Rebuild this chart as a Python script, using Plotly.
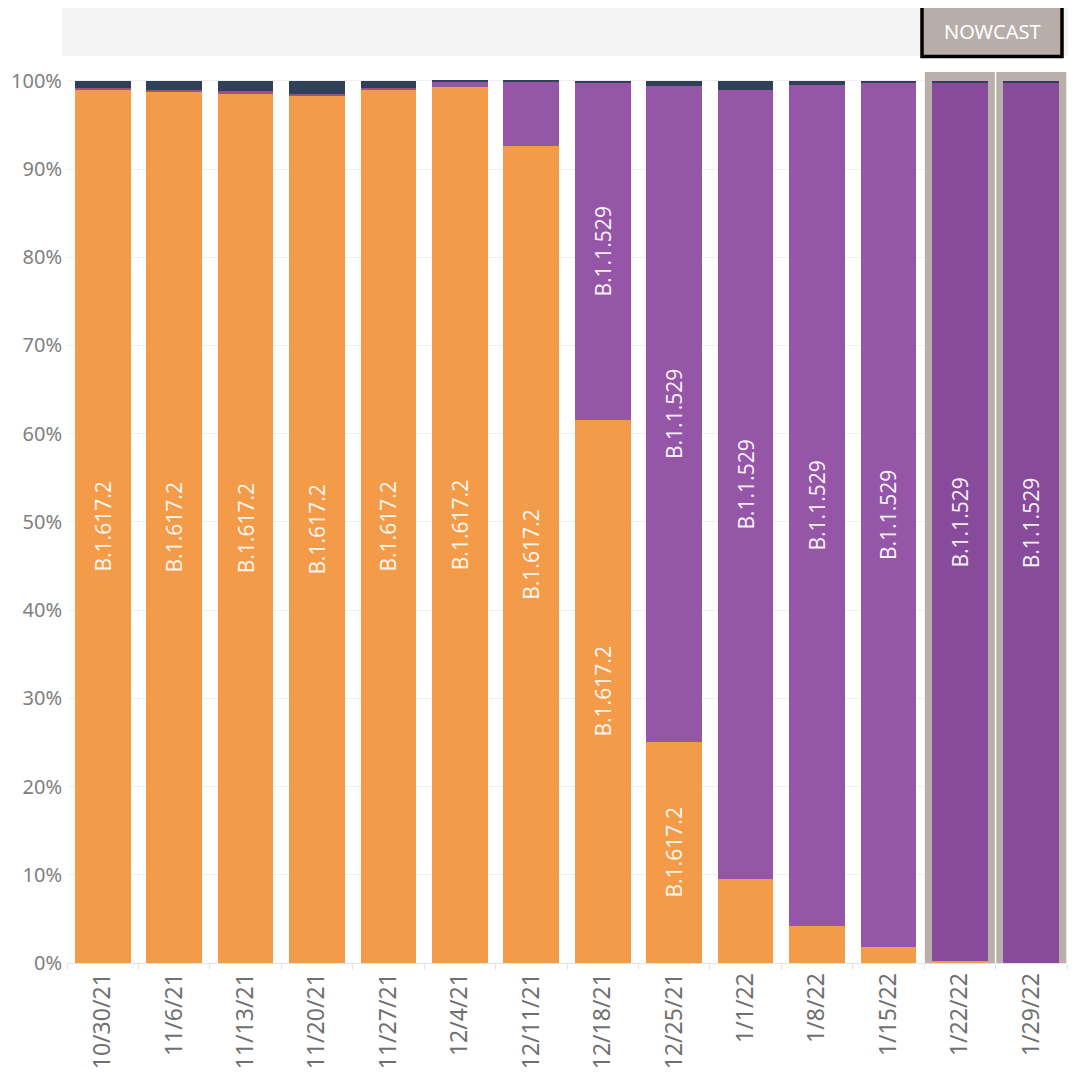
import plotly.graph_objects as go

weeks = ["10/30/21", "11/6/21", "11/13/21", "11/20/21", "11/27/21", "12/4/21", "12/11/21",
         "12/18/21", "12/25/21", "1/1/22", "1/8/22", "1/15/22", "1/22/22", "1/29/22"]
delta = [99.0, 98.8, 98.6, 98.3, 99.0, 99.3, 92.6, 61.6, 25.1, 9.5, 4.2, 1.8, 0.2, 0.05]
omicron = [0, 0, 0, 0, 0, 0.6, 7.3, 38.15, 74.3, 89.5, 95.35, 98.0, 99.5, 99.65]
minor = [0.2, 0.2, 0.2, 0.2, 0.2, 0, 0, 0, 0, 0, 0, 0, 0, 0]
other = [0.8, 1.0, 1.2, 1.5, 0.8, 0.1, 0.1, 0.25, 0.6, 1.0, 0.45, 0.2, 0.3, 0.3]
delta_labels = ["B.1.617.2"] * 9 + [""] * 5
omicron_labels = [""] * 7 + ["B.1.1.529"] * 7
nowcast_weeks = ["1/22/22", "1/29/22"]

FONT = "Noto Sans"
ORANGE = "#f39b48"
PURPLE = "#9656a8"
PURPLE_NC = "#884a9b"
NAVY = "#2f4058"
PINK = "#a2507e"

omicron_colors = [PURPLE_NC if w in nowcast_weeks else PURPLE for w in weeks]

fig = go.Figure()
common = dict(textangle=-90, textposition="inside", insidetextanchor="middle",
              textfont=dict(family=FONT, size=21, color="rgba(255,255,255,0.92)"),
              hoverinfo="x+y+name")
fig.add_trace(go.Bar(x=weeks, y=delta, name="B.1.617.2", marker_color=ORANGE,
                     marker_line_width=0, text=delta_labels, **common))
fig.add_trace(go.Bar(x=weeks, y=omicron, name="B.1.1.529", marker_color=omicron_colors,
                     marker_line_width=0, text=omicron_labels, **common))
fig.add_trace(go.Bar(x=weeks, y=minor, name="Minor lineage", marker_color=PINK,
                     marker_line_width=0))
fig.add_trace(go.Bar(x=weeks, y=other, name="Other", marker_color=NAVY,
                     marker_line_width=0))

shapes = []
# header band
shapes.append(dict(type="rect", xref="paper", yref="paper", x0=-0.005, x1=1.003,
                   y0=1.018, y1=1.0763, fillcolor="#f4f4f4", line_width=0, layer="below"))
# NOWCAST button
shapes.append(dict(type="rect", xref="paper", yref="paper", x0=0.855, x1=0.995,
                   y0=1.0175, y1=1.075, fillcolor="#b7aeaa",
                   line=dict(color="#000000", width=3.5)))
# nowcast background columns
for w in nowcast_weeks:
    i = weeks.index(w)
    shapes.append(dict(type="rect", xref="x", yref="y", x0=i - 0.49, x1=i + 0.49,
                       y0=0, y1=101, fillcolor="#b9b0ab", line_width=0, layer="between"))

fig.update_layout(
    barmode="stack",
    bargap=0.22,
    width=1068, height=1072,
    margin=dict(l=59, r=9, t=64, b=117, autoexpand=False),
    plot_bgcolor="white", paper_bgcolor="white",
    showlegend=False,
    shapes=shapes,
    annotations=[dict(xref="paper", yref="paper", x=0.925, y=1.046, text="NOWCAST",
                      showarrow=False, font=dict(family=FONT, size=20, color="white"),
                      xanchor="center", yanchor="middle")],
    font=dict(family=FONT, color="#808080"),
)
fig.update_yaxes(range=[0, 101], tickvals=[0, 10, 20, 30, 40, 50, 60, 70, 80, 90, 100],
                 ticktext=[f"{v}%" for v in range(0, 101, 10)], automargin=False,
                 showgrid=True, gridcolor="#efefef", gridwidth=1, zeroline=False,
                 tickfont=dict(family=FONT, size=20, color="#808080"), ticks="",
                 ticklabelstandoff=4, fixedrange=True)
fig.update_xaxes(tickangle=-90, tickfont=dict(family=FONT, size=23, color="#707070"),
                 automargin=False,
                 showline=True, linecolor="#e3e3e3", ticks="outside", tickson="boundaries",
                 ticklen=6, tickcolor="#e3e3e3", showgrid=False, range=[-0.5, 13.5])

fig.write_html("out.html")
